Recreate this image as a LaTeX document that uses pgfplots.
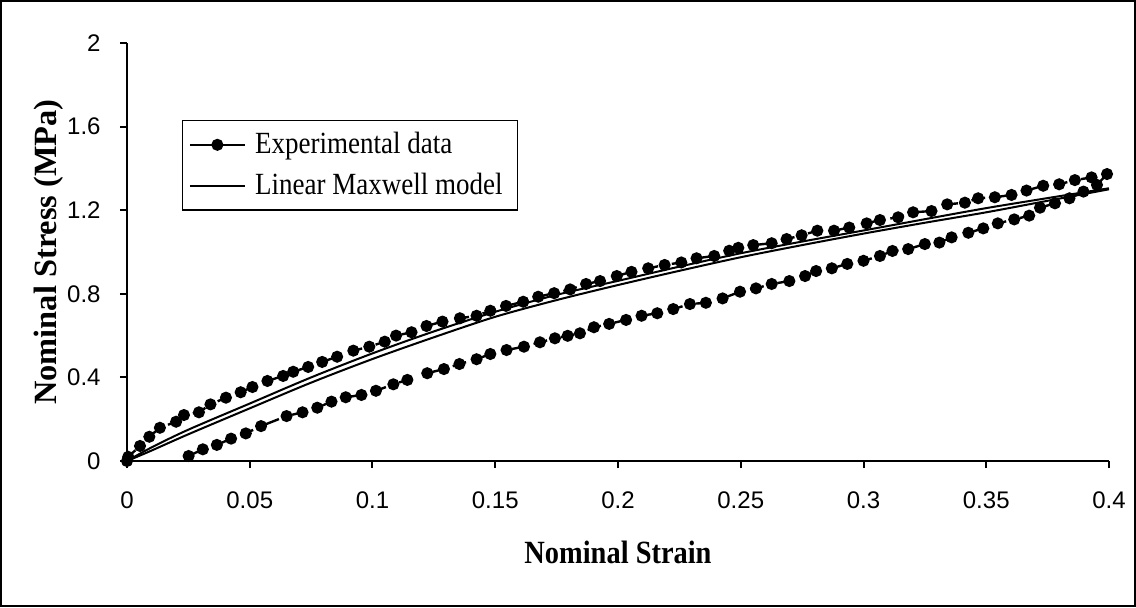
\documentclass[border=0pt]{standalone}
\usepackage{pgfplots}
\pgfplotsset{compat=1.18}
\usepackage{fontspec}
\setmainfont{Liberation Serif}
\newfontfamily\timescond[FakeStretch=0.877]{Liberation Serif}
\newfontfamily\arialfont{Liberation Sans}

\begin{document}
\begin{tikzpicture}
\useasboundingbox (-63.5pt,-73pt) rectangle (504.5pt,230.5pt);
\draw[line width=0.8pt] (-63.1pt,-72.6pt) rectangle (504.1pt,230.1pt);
\begin{axis}[
  at={(0,0)}, anchor=origin,
  scale only axis, width=491pt, height=209pt,
  xmin=0, xmax=0.4, ymin=0, ymax=2,
  clip=false,
  axis x line=bottom, axis y line=left,
  axis line style={-, line width=1pt},
  tick style={line width=1pt, black},
  tick align=outside, major tick length=3.5pt,
  xtick={0,0.05,0.1,0.15,0.2,0.25,0.3,0.35,0.4},
  xticklabels={0,0.05,0.1,0.15,0.2,0.25,0.3,0.35,0.4},
  ytick={0,0.4,0.8,1.2,1.6,2},
  yticklabels={0,0.4,0.8,1.2,1.6,2},
  xticklabel style={font=\arialfont\fontsize{12}{14}\selectfont, anchor=north, inner sep=0pt, yshift=-11.5pt},
  yticklabel style={font=\arialfont\fontsize{12}{14}\selectfont, anchor=east, inner sep=0pt, xshift=-9.5pt},
  xlabel={\textbf{Nominal Strain}},
  ylabel={\textbf{Nominal Stress (MPa)}},
  xlabel style={font=\timescond\fontsize{16.2}{18}\selectfont, at={(axis description cs:0.5,-0.2177)}, anchor=center},
  ylabel style={font=\fontsize{16.2}{18}\selectfont, at={(axis description cs:-0.08,0.5)}, anchor=center},
  legend style={at={(axis description cs:0.056,0.816)}, anchor=north west,
    draw=black, line width=0.7pt, font=\timescond\fontsize{15.4}{17}\selectfont,
    inner xsep=3pt, inner ysep=4pt, row sep=4.3pt},
  legend cell align=left,
  legend image code/.code={\draw[mark repeat=2,mark phase=2] plot coordinates {(0pt,0pt)(13.75pt,0pt)(27.5pt,0pt)};},
]
% Experimental data: loading then unloading
\addplot[black, line width=1.2pt, dash pattern=on 7pt off 7pt, mark=*, mark size=2.4pt, mark options={solid, fill=black}, legend image post style={solid}] coordinates {
(0,0) (0.0005,0.02) (0.0053,0.072) (0.0091,0.116) (0.0134,0.159) (0.020,0.188)
(0.0232,0.22) (0.0293,0.233) (0.034,0.271) (0.0403,0.303) (0.0463,0.329)
(0.0511,0.354) (0.0572,0.383) (0.0636,0.407) (0.0677,0.427) (0.0738,0.45)
(0.0795,0.474) (0.0856,0.499) (0.0922,0.528) (0.0987,0.547) (0.105,0.571)
(0.1096,0.6) (0.1159,0.616) (0.122,0.646) (0.1285,0.667) (0.1356,0.683)
(0.1424,0.695) (0.148,0.719) (0.1544,0.742) (0.1614,0.762) (0.1675,0.786)
(0.174,0.803) (0.1805,0.821) (0.187,0.847) (0.1927,0.861) (0.1995,0.885)
(0.2055,0.905) (0.2123,0.922) (0.219,0.938) (0.2258,0.95) (0.232,0.97)
(0.2392,0.981) (0.2453,1.006) (0.249,1.02) (0.2551,1.033) (0.2626,1.042)
(0.2687,1.062) (0.2748,1.08) (0.2812,1.102) (0.288,1.102) (0.2942,1.117)
(0.3013,1.137) (0.3067,1.153) (0.3141,1.166) (0.3202,1.19) (0.3277,1.196)
(0.3341,1.228) (0.3413,1.236) (0.3467,1.257) (0.3535,1.262) (0.3603,1.273)
(0.3664,1.294) (0.3732,1.317) (0.3797,1.324) (0.3861,1.344) (0.3929,1.357)
(0.3992,1.373)
(0.3951,1.321) (0.3896,1.289) (0.3839,1.257) (0.378,1.233) (0.3719,1.212)
(0.3675,1.174) (0.3614,1.156) (0.3547,1.137) (0.3488,1.113) (0.3427,1.092)
(0.3359,1.07) (0.3309,1.045) (0.325,1.038) (0.3182,1.014) (0.3118,1.005)
(0.3067,0.981) (0.3,0.958) (0.2934,0.943) (0.2871,0.922) (0.2807,0.909)
(0.2762,0.885) (0.2698,0.861) (0.2626,0.847) (0.2562,0.826) (0.2497,0.81)
(0.2426,0.778) (0.2358,0.757) (0.2293,0.751) (0.2225,0.727) (0.216,0.707)
(0.2096,0.695) (0.2033,0.675) (0.1964,0.656) (0.1902,0.64) (0.1845,0.611)
(0.1795,0.599) (0.1743,0.587) (0.1682,0.568) (0.1617,0.547) (0.1546,0.531)
(0.148,0.512) (0.1424,0.487) (0.1354,0.464) (0.1291,0.44) (0.1223,0.42)
(0.1142,0.388) (0.1085,0.367) (0.1014,0.336) (0.0955,0.316) (0.0891,0.305)
(0.0833,0.284) (0.0775,0.255) (0.0715,0.233) (0.065,0.215) (0.0546,0.167)
(0.0484,0.132) (0.0424,0.107) (0.0366,0.077) (0.0309,0.056) (0.0251,0.024)
};
\addlegendentry{\hspace*{2.5pt}Experimental data}
% Linear Maxwell model: loading
\addplot[black, line width=1pt, smooth] coordinates {
(0,0) (0.01,0.065) (0.025,0.15) (0.05,0.275) (0.075,0.40) (0.1,0.515)
(0.125,0.62) (0.15,0.714) (0.175,0.795) (0.2,0.862) (0.225,0.93) (0.25,0.994)
(0.275,1.05) (0.3,1.103) (0.325,1.157) (0.35,1.21) (0.375,1.258) (0.4,1.305)
};
\addlegendentry{\hspace*{2.5pt}Linear Maxwell model\hspace*{2.5pt}}
% Linear Maxwell model: unloading
\addplot[black, line width=1pt, smooth, forget plot] coordinates {
(0.4,1.30) (0.375,1.245) (0.35,1.19) (0.325,1.14) (0.3,1.088) (0.275,1.033)
(0.25,0.975) (0.225,0.91) (0.2,0.842) (0.175,0.77) (0.15,0.69) (0.125,0.592)
(0.1,0.488) (0.075,0.375) (0.05,0.252) (0.025,0.128) (0.01,0.05) (0,0)
};
\end{axis}
\end{tikzpicture}
\end{document}
